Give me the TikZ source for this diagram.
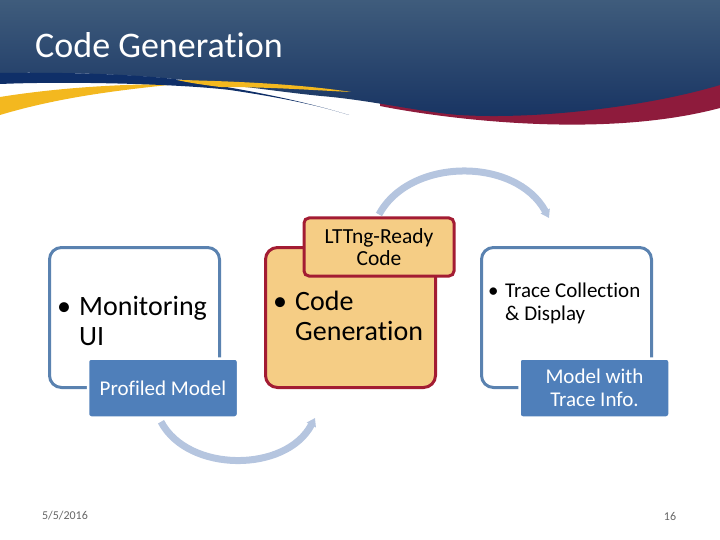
\documentclass[tikz,border=0pt]{standalone}
\usepackage{fontspec}
\setmainfont[Ligatures=NoCommon]{Carlito}
\usetikzlibrary{arrows.meta}
\definecolor{headtop}{HTML}{3F5C7C}
\definecolor{headbot}{HTML}{173362}
\definecolor{navyband}{HTML}{0F2F68}
\definecolor{goldband}{HTML}{F3B81F}
\definecolor{redband}{HTML}{8E1B3C}
\definecolor{boxblue}{HTML}{5A82B0}
\definecolor{fillblue}{HTML}{4F7FBA}
\definecolor{boxred}{HTML}{A31C33}
\definecolor{fillorange}{HTML}{F5CD85}
\definecolor{arcblue}{HTML}{B5C5DF}
\tikzset{
    stagebox/.style={rounded corners=12pt,line width=3pt,minimum width=170pt,minimum height=140pt,inner sep=0pt},
    modelbox/.style={rounded corners=3pt,fill=fillblue,draw=white,line width=2.5pt,minimum width=150pt,minimum height=59pt,
        inner sep=0pt,text=white,align=center,font=\fontsize{21}{23}\selectfont},
    readybox/.style={rounded corners=5pt,fill=fillorange,draw=boxred,line width=3pt,minimum width=150pt,minimum height=58pt,
        inner sep=0pt,align=center,font=\fontsize{21.5}{21.5}\selectfont},
    flowarc/.style={draw=arcblue,line width=7pt,-{Triangle[length=8pt,width=10pt]}},
    stagetxt/.style={anchor=west,align=left,inner sep=0pt},
    footnum/.style={text=black!60,font=\fontsize{12}{14}\selectfont},
}
\begin{document}
\begin{tikzpicture}[x=1pt,y=-1pt]
    \useasboundingbox (0,0) rectangle (720,540);
    % header
    \fill[redband] (380,106) .. controls (440,118) and (600,140) .. (720,108) -- (720,80) -- (380,80) -- cycle;
    \shade[top color=headtop,bottom color=headbot] (0,0) -- (720,0) -- (720,85) .. controls (650,106) and (540,120) .. (459,115)
        .. controls (420,112) and (370,100) .. (321,96) .. controls (280,92) and (230,84) .. (174,79) .. controls (120,74) and (60,72) .. (0,73) -- cycle;
    \fill[goldband] (0,97) .. controls (50,89) and (110,84) .. (178,84) .. controls (120,90) and (60,97) .. (0,115) -- cycle;
    \fill[navyband] (0,73) .. controls (60,72) and (130,74) .. (174,79) .. controls (240,88) and (300,100) .. (349,115)
        .. controls (310,103) and (270,96) .. (230,90) .. controls (180,84) and (70,81) .. (0,84) -- cycle;
    \fill[goldband] (177,80) .. controls (230,81) and (300,84) .. (351,92) .. controls (310,90) and (270,87) .. (220,87) .. controls (205,85) and (190,83) .. cycle;
    \node[anchor=west,text=white,font=\fontsize{36}{40}\selectfont,inner sep=0pt] (title) at (35,45.5) {Code Generation};
    % stages
    \node[stagebox,draw=boxblue] (monitor) at (134.5,317.5) {};
    \node[stagebox,draw=boxred,fill=fillorange] (codegen) at (350.5,317.5) {};
    \node[stagebox,draw=boxblue] (trace) at (566.5,317.5) {};
    \node[modelbox] (profiled) at (163,388) {Profiled Model};
    \node[modelbox] (tracemodel) at (594.5,388) {Model with\\Trace Info.};
    \node[readybox] (ready) at (379,247) {LTTng-Ready\\Code};
    % stage texts
    \node[stagetxt,font=\fontsize{28}{30}\selectfont] (monitortxt) at (57,320.5) {\textbullet\hspace{8pt}Monitoring\\\hspace{22pt}UI};
    \node[stagetxt,font=\fontsize{28}{30}\selectfont] (codetxt) at (273,315.5) {\textbullet\hspace{8pt}Code\\\hspace{22pt}Generation};
    \node[stagetxt,font=\fontsize{21}{23}\selectfont] (tracetxt) at (488,303.5) {\textbullet\hspace{6.5pt}Trace Collection\\\hspace{17pt}\& Display};
    % flow arrows
    \coordinate (codein) at (315,418);
    \coordinate (tracein) at (549,218);
    \draw[flowarc] (profiled.south) ++(-2,3) .. controls (188,473) and (286,473) .. (codein);
    \draw[flowarc] (ready.north) ++(0,-2) .. controls (410,157) and (516,157) .. (tracein);
    % footer
    \node[footnum] (datenum) at (65,516) {5/5/2016};
    \node[footnum] (slidenum) at (670,516) {16};
\end{tikzpicture}
\end{document}
